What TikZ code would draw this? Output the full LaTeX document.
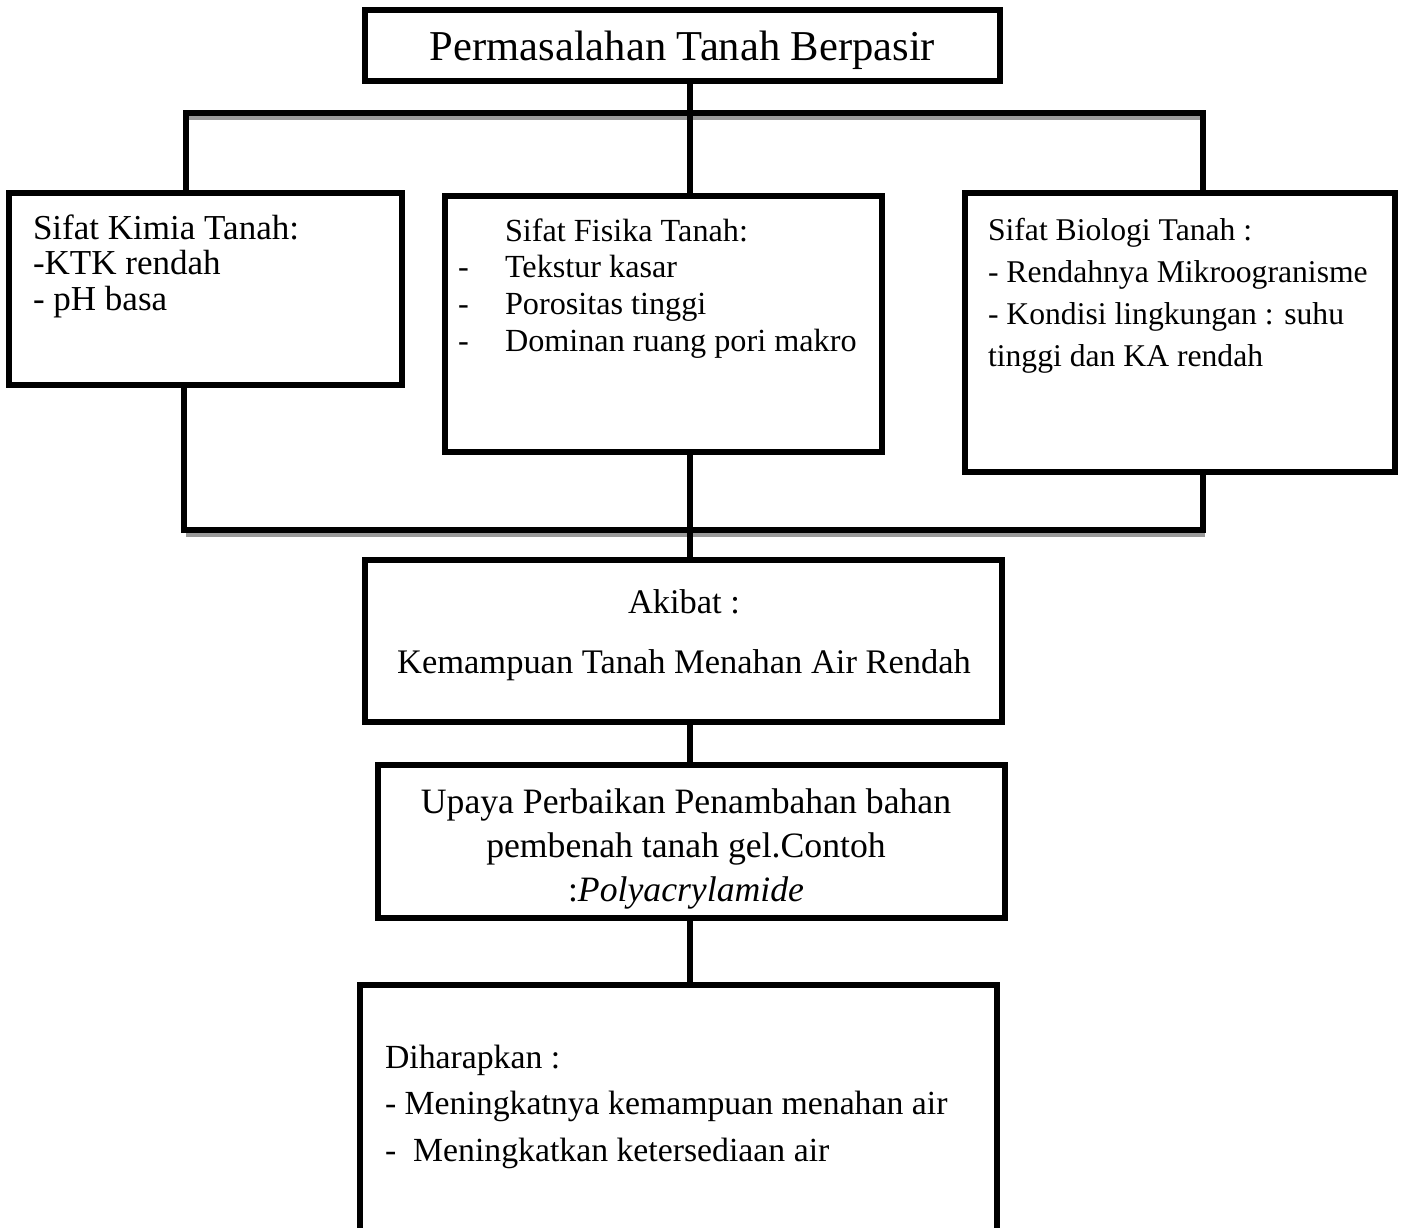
\documentclass[tikz,border=0pt]{standalone}
\usepackage{fontspec}
\setmainfont{Liberation Serif}
\usetikzlibrary{calc}

\tikzset{
	box/.style={draw,line width=1.5pt,inner sep=0pt,outer sep=0pt},
	link/.style={line width=1.5pt},
	shade/.style={line width=1.1pt,color=black!40},
	txt/.style={inner sep=0pt,outer sep=0pt,align=left,anchor=base west}
}

\begin{document}
\begin{tikzpicture}[x=0.01cm,y=-0.01cm]
	\useasboundingbox (0,0) rectangle (1419,1227);
	\clip (0,0) rectangle (1419,1227);

	% boxes
	\node[box,minimum width=635*0.01cm,minimum height=71*0.01cm,text depth=0pt,font=\fontsize{12.1}{14}\selectfont] (top) at (682.5,45.5) {Permasalahan Tanah Berpasir};
	\node[box,minimum width=393*0.01cm,minimum height=192*0.01cm] (kimia) at (205.5,289) {};
	\node[box,minimum width=437*0.01cm,minimum height=256*0.01cm] (fisika) at (663.5,324) {};
	\node[box,minimum width=430*0.01cm,minimum height=279*0.01cm] (biologi) at (1180,332.5) {};
	\node[box,minimum width=637*0.01cm,minimum height=162*0.01cm] (akibat) at (683.5,641) {};
	\node[box,minimum width=627*0.01cm,minimum height=153*0.01cm] (upaya) at (691.5,841.5) {};
	\node[box,minimum width=637*0.01cm,minimum height=315*0.01cm] (harap) at (678.5,1142.5) {};

	% texts (placed at the baseline of their last line)
	\node[txt,font=\fontsize{9.96}{9.96}\selectfont] (kimiatxt) at (33,310)
		{Sifat Kimia Tanah:\\-KTK rendah\\- pH basa};
	\node[txt,font=\fontsize{9.16}{10.4}\selectfont] (fisikatxt) at (458,351)
		{\hspace*{0.47cm}Sifat Fisika Tanah:\\
		\makebox[0.47cm][l]{-}Tekstur kasar\\
		\makebox[0.47cm][l]{-}Porositas tinggi\\
		\makebox[0.47cm][l]{-}Dominan ruang pori makro};
	\node[txt,font=\fontsize{9.0}{11.9}\selectfont] (biologitxt) at (988,366)
		{Sifat Biologi Tanah :\\- Rendahnya Mikroogranisme\\- Kondisi lingkungan : suhu\\tinggi dan KA rendah};
	\node[txt,align=center,anchor=base,font=\fontsize{9.8}{16.8}\selectfont] (akibattxt) at (684,673)
		{Akibat :\\Kemampuan Tanah Menahan Air Rendah};
	\node[txt,align=center,anchor=base,font=\fontsize{10.15}{12.5}\selectfont] (upayatxt) at (686,901)
		{Upaya Perbaikan Penambahan bahan\\pembenah tanah gel.Contoh\\:\textit{Polyacrylamide}};
	\node[txt,font=\fontsize{9.6}{13.1}\selectfont] (haraptxt) at (385,1161)
		{Diharapkan :\\- Meningkatnya kemampuan menahan air\\-\ \ Meningkatkan ketersediaan air};

	% connectors
	\coordinate (spine) at (690,0);
	\coordinate (lft) at (186,113);
	\coordinate (rgt) at (1203,113);
	\coordinate (lftb) at (184,530);
	\coordinate (rgtb) at (1203,530);

	\draw[shade] ($(lft)+(2,5)$) -- ($(rgt)+(-2,5)$);
	\draw[shade] ($(lftb)+(2,5)$) -- ($(rgtb)+(2,5)$);

	\draw[link] (kimia.north -| lft) -- (lft) -- (rgt) -- (biologi.north -| rgt);
	\draw[link] (top.south -| spine) -- (fisika.north -| spine);
	\draw[link] (kimia.south -| lftb) -- (lftb) -- (rgtb) -- (biologi.south -| rgtb);
	\draw[link] (fisika.south -| spine) -- (akibat.north -| spine);
	\draw[link] (akibat.south -| spine) -- (upaya.north -| spine);
	\draw[link] (upaya.south -| spine) -- (harap.north -| spine);
\end{tikzpicture}
\end{document}
